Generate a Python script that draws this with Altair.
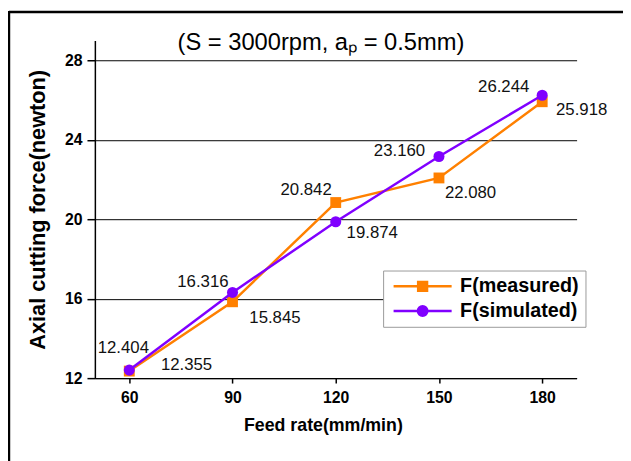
import altair as alt
import pandas as pd

# ---- data ----
feed_rate = [60, 90, 120, 150, 180]
f_measured = [12.355, 15.845, 20.842, 22.080, 25.918]
f_simulated = [12.404, 16.316, 19.874, 23.160, 26.244]
series_names = ["F(measured)", "F(simulated)"]
x_ticks = [60, 90, 120, 150, 180]
y_ticks = [12, 16, 20, 24, 28]
title_text = "(S = 3000rpm, aₚ = 0.5mm)"
x_title = "Feed rate(mm/min)"
y_title = "Axial cutting force(newton)"

# ---- styles ----
colors = ["#FF8000", "#8000FF"]
FONT = "Liberation Sans"
# per-point label offsets (dx, dy) in pixels
label_offsets = {
    "F(measured)": [(58, -6), (43, 17), (-30, -13), (32, 15), (40, 8)],
    "F(simulated)": [(-6, -22), (-30, -10), (37, 11), (-40, -6), (-39, -8)],
}
legend_paths = [
    "M-4.9,0H4.9M-0.75,-0.75H0.75V0.75H-0.75Z",
    "M-4.9,0H4.9M-0.8,0A0.8,0.8 0 1,0 0.8,0A0.8,0.8 0 1,0 -0.8,0Z",
]

rows = []
for name, vals in zip(series_names, [f_measured, f_simulated]):
    for i, (f, v) in enumerate(zip(feed_rate, vals)):
        rows.append({"series": name, "feed": f, "force": v, "label": f"{v:.3f}", "idx": i})
df = pd.DataFrame(rows)

x_enc = alt.X(
    "feed:Q",
    scale=alt.Scale(domain=[50, 190], nice=False, zero=False),
    axis=alt.Axis(values=x_ticks, grid=False, title=x_title, tickSize=5,
                  labelPadding=7, titleFontSize=18, titlePadding=11, titleX=231),
)
y_enc = alt.Y(
    "force:Q",
    scale=alt.Scale(domain=[12, 29], nice=False, zero=False),
    axis=alt.Axis(values=y_ticks, grid=True, title=y_title, tickSize=8,
                  labelPadding=5, titleFontSize=22, titlePadding=15),
)

base = alt.Chart(df)
layers = []

# outer frame (left and top edges)
frame_src = alt.Chart(alt.Data(values=[{"k": 1}]))
layers.append(frame_src.mark_rule(color="black", strokeWidth=2.5).encode(
    x=alt.value(-87), x2=alt.value(700), y=alt.value(-29)))
layers.append(frame_src.mark_rule(color="black", strokeWidth=2.5).encode(
    x=alt.value(-87), y=alt.value(-30), y2=alt.value(600)))

for name, col, mk in zip(series_names, colors, ["square", "circle"]):
    sub = base.transform_filter(alt.datum.series == name)
    layers.append(sub.mark_line(color=col, strokeWidth=2.5).encode(x=x_enc, y=y_enc))
    if mk == "square":
        layers.append(sub.mark_square(color=col, size=121, opacity=1).encode(x=x_enc, y=y_enc))
    else:
        layers.append(sub.mark_circle(color=col, size=125, opacity=1).encode(x=x_enc, y=y_enc))

# data labels
for name in series_names:
    for i, (dx, dy) in enumerate(label_offsets[name]):
        layers.append(
            base.transform_filter((alt.datum.series == name) & (alt.datum.idx == i))
            .mark_text(dx=dx, dy=dy, fontSize=17, font=FONT, color="#111111",
                       align="center", baseline="middle")
            .encode(x=x_enc, y=y_enc, text="label:N")
        )

# legend carrier (invisible marks)
leg = alt.Legend(
    title=None, orient="none", legendX=292, legendY=233,
    strokeColor="#999999", fillColor="white", padding=6,
    labelFont=FONT, labelFontSize=20, labelFontWeight="bold", labelColor="black",
    symbolSize=144, symbolStrokeWidth=2.5, symbolOpacity=1,
    symbolOffset=24, labelOffset=28, rowPadding=5,
)
cscale = alt.Scale(domain=series_names, range=colors)
layers.append(
    base.mark_point(filled=True, opacity=0).encode(
        x=x_enc, y=y_enc,
        fill=alt.Fill("series:N", scale=cscale, legend=leg),
        stroke=alt.Stroke("series:N", scale=cscale, legend=leg),
        shape=alt.Shape("series:N", scale=alt.Scale(domain=series_names, range=legend_paths), legend=leg),
    )
)

chart = alt.layer(*layers).properties(
    width=488, height=342,
    padding={"left": 88, "top": 30, "right": 47, "bottom": 81},
    autosize=alt.AutoSizeParams(type="none"),
    background="white",
    title=alt.TitleParams(text=title_text, font=FONT, fontSize=24, fontWeight="normal",
                          color="black", anchor="middle", dx=-15, dy=50),
).configure_view(stroke=None).configure_axis(
    labelFont=FONT, labelFontSize=16, labelFontWeight="bold", labelColor="black",
    titleFont=FONT, titleFontWeight="bold", titleColor="black",
    domainColor="black", domainWidth=1.5, tickColor="black", tickWidth=1.5,
    gridColor="black", gridWidth=1, gridOpacity=1,
)

chart.save("out.html", embed_options={"renderer": "svg", "actions": False})
